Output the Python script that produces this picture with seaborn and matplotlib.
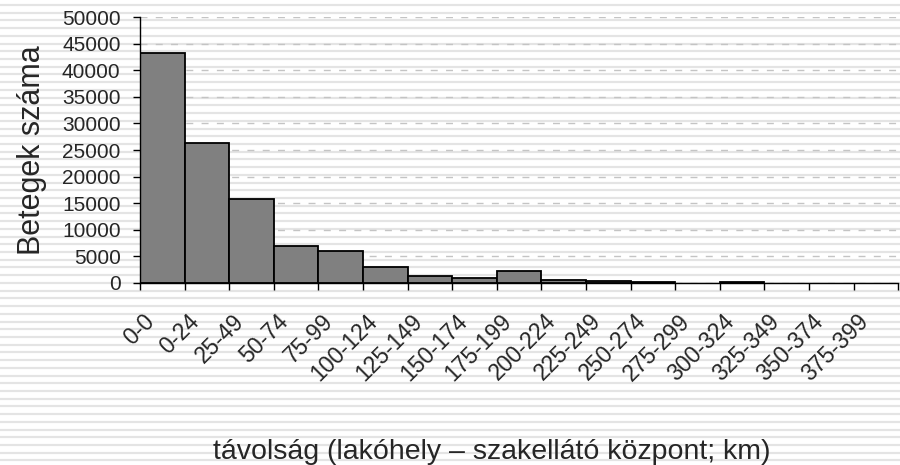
import numpy as np
import pandas as pd
import matplotlib.pyplot as plt
import matplotlib.transforms as mtransforms
from matplotlib.lines import Line2D
import seaborn as sns
#
# Data:
categories = [
    '0-0', '0-24', '25-49', '50-74', '75-99', '100-124', '125-149',
    '150-174', '175-199', '200-224', '225-249', '250-274', '275-299',
    '300-324', '325-349', '350-374', '375-399'
]
patients = [
    43300, 26400, 15800, 6950, 5950, 2950, 1300,
    900, 2300, 650, 380, 200, 0,
    200, 0, 0, 0
]
y_ticks = [0, 5000, 10000, 15000, 20000, 25000, 30000, 35000, 40000, 45000, 50000]
df = pd.DataFrame({'tav': categories, 'betegek': patients})
#
# Style:
sns.set_style('white')
plt.rcParams['font.family'] = ['Liberation Sans', 'DejaVu Sans']
#
# Create the figure:
fig = plt.figure(figsize=(9, 4.65), dpi=100)
fig.patch.set_facecolor('white')
ax = fig.add_axes([0.1556, 0.3914, 0.8424, 0.572])
ax.set_facecolor('none')
#
# Striped background of the whole picture:
for ypix in np.arange(5, 465, 7.72):
    fig.add_artist(Line2D([0, 1], [1 - ypix / 465, 1 - ypix / 465],
                          transform=fig.transFigure, color='#e4e4e4',
                          lw=1.6, zorder=-10))
#
# Bars:
sns.barplot(
    data=df,
    x='tav',
    y='betegek',
    color='#808080',
    saturation=1,
    edgecolor='black',
    linewidth=1.3,
    width=1,
    ax=ax
)
for p in ax.patches:
    if p.get_height() == 0:
        p.set_linewidth(0)
#
# Grid and axes:
ax.set_ylim(0, 50000)
ax.set_xlim(-0.5, len(categories) - 0.5)
ax.set_yticks(y_ticks)
ax.set_yticklabels([str(v) for v in y_ticks], fontsize=15)
ax.yaxis.grid(True, color='#c4c4c4', linestyle=(0, (5, 6)), linewidth=1)
ax.set_axisbelow(True)
for s in ['top', 'right']:
    ax.spines[s].set_visible(False)
for s in ['left', 'bottom']:
    ax.spines[s].set_color('black')
    ax.spines[s].set_linewidth(1)
ax.tick_params(axis='y', which='major', direction='out', length=5,
               width=1, color='black', left=True, pad=9)
#
# Ticks at bar boundaries, labels at bar centres:
ax.set_xticks(np.arange(len(categories) + 1) - 0.5)
ax.set_xticklabels([''] * (len(categories) + 1))
ax.set_xticks(np.arange(len(categories)), minor=True)
ax.set_xticklabels(categories, minor=True, fontsize=16.5, rotation=45,
                   ha='right', va='center', rotation_mode='anchor')
ax.tick_params(axis='x', which='major', direction='out', length=5,
               width=1, color='black', bottom=True)
ax.tick_params(axis='x', which='minor', length=0, pad=25)
offset = mtransforms.ScaledTranslation(-11 / 100, 0, fig.dpi_scale_trans)
for lab in ax.get_xticklabels(minor=True):
    lab.set_transform(lab.get_transform() + offset)
#
# Labels:
ax.set_xlabel('távolság (lakóhely – szakellátó központ; km)', fontsize=20.5)
ax.xaxis.set_label_coords(0.464, -0.585)
ax.set_ylabel('Betegek száma', fontsize=22)
ax.yaxis.set_label_coords(-0.123, 0.5)
#
# Save it:
fig.savefig('out.png', dpi=100)
